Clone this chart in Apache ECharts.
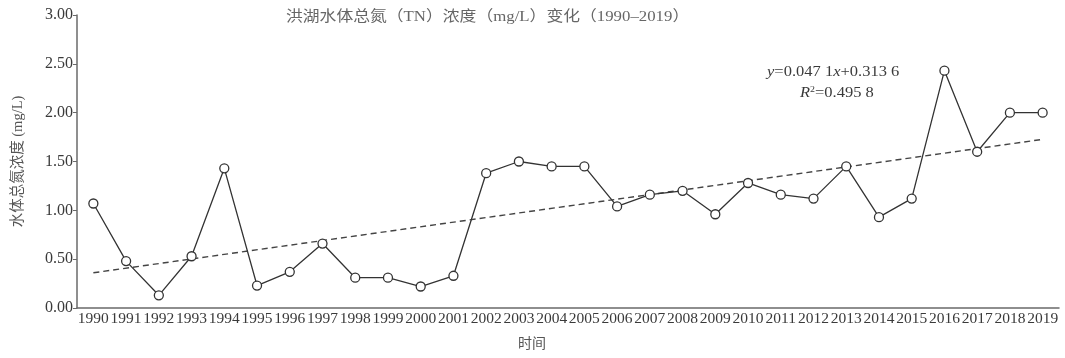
<!DOCTYPE html>
<html>
<head>
<meta charset="utf-8">
<script src="https://cdn.jsdelivr.net/npm/echarts@6/dist/echarts.min.js"></script>
<style>
  html, body { margin: 0; padding: 0; background: #fff; }
  #chart { width: 1065px; height: 358px; }
</style>
</head>
<body>
<div id="chart"></div>
<script>
// Years on the horizontal axis
const years = ['1990','1991','1992','1993','1994','1995','1996','1997','1998','1999',
               '2000','2001','2002','2003','2004','2005','2006','2007','2008','2009',
               '2010','2011','2012','2013','2014','2015','2016','2017','2018','2019'];

// Total nitrogen concentration of Honghu Lake water (mg/L)
const tnValues = [1.07, 0.48, 0.13, 0.53, 1.43, 0.23, 0.37, 0.66, 0.31, 0.31,
                  0.22, 0.33, 1.38, 1.50, 1.45, 1.45, 1.04, 1.16, 1.20, 0.96,
                  1.28, 1.16, 1.12, 1.45, 0.93, 1.12, 2.43, 1.60, 2.00, 2.00];

// Linear trend y = a*x + b, x = 1 for the first year
const trendSlope = 0.0471;
const trendIntercept = 0.3136;
const rSquared = 0.4958;

const yTicks = [0, 0.5, 1, 1.5, 2, 2.5, 3];

// Four decimals written with a thin group break after the third: 0.047 1
function groupDecimals(v) {
  const s = v.toFixed(4);
  return s.slice(0, 5) + ' ' + s.slice(5);
}

const trendLine = [
  [years[0], trendSlope * 1 + trendIntercept],
  [years[years.length - 1], trendSlope * years.length + trendIntercept]
];

const serif = '"Liberation Serif", "DejaVu Serif", "Noto Sans CJK SC", serif';
const textColor = '#3a3a3a';
const axisColor = '#6a6a6a';

const chart = echarts.init(document.getElementById('chart'), null, { renderer: 'canvas' });

chart.setOption({
  backgroundColor: '#fff',
  animation: false,
  grid: { left: 77, right: 6, top: 15, bottom: 50, containLabel: false },
  xAxis: {
    type: 'category',
    data: years,
    boundaryGap: true,
    name: '时间',
    nameLocation: 'middle',
    nameGap: 29,
    nameTextStyle: { fontFamily: serif, fontSize: 14, color: '#555', padding: [0, 72, 0, 0] },
    axisLine: { lineStyle: { color: axisColor, width: 1.5 } },
    axisTick: { alignWithLabel: true, inside: true, length: 5, lineStyle: { color: axisColor } },
    axisLabel: { fontFamily: serif, fontSize: 15.5, color: textColor, margin: 3, interval: 0 },
    splitLine: { show: false }
  },
  yAxis: {
    type: 'value',
    min: yTicks[0],
    max: yTicks[yTicks.length - 1],
    interval: 0.5,
    name: '水体总氮浓度 (mg/L)',
    nameLocation: 'middle',
    nameGap: 52,
    nameRotate: 90,
    nameTextStyle: { fontFamily: serif, fontSize: 14.5, color: '#555' },
    axisLine: { show: true, lineStyle: { color: axisColor, width: 1.5 } },
    axisTick: { show: true, length: 4, lineStyle: { color: axisColor } },
    axisLabel: {
      fontFamily: serif, fontSize: 16, color: textColor, margin: 4,
      formatter: v => v.toFixed(2)
    },
    splitLine: { show: false }
  },
  series: [
    {
      name: 'TN',
      type: 'line',
      data: tnValues,
      symbol: 'circle',
      symbolSize: 9,
      lineStyle: { color: '#333', width: 1.3 },
      itemStyle: { color: '#fff', borderColor: '#333', borderWidth: 1.3 },
      z: 3
    },
    {
      name: 'trend',
      type: 'line',
      data: trendLine,
      symbol: 'none',
      lineStyle: { color: '#444', width: 1.4, type: [6, 4] },
      z: 2
    }
  ],
  graphic: [
    {
      type: 'text',
      x: 286,
      y: 10,
      scaleX: 1.12,
      style: {
        text: '洪湖水体总氮（TN）浓度（mg/L）变化（1990–2019）',
        font: '15px ' + serif,
        fill: '#666'
      }
    },
    {
      type: 'text',
      x: 767,
      y: 65,
      scaleX: 1.1,
      style: {
        text: '{i|y}=' + groupDecimals(trendSlope) + '{i|x}+' + groupDecimals(trendIntercept),
        font: '15px ' + serif,
        fill: textColor,
        rich: {
          i: { fontStyle: 'italic', fontFamily: serif, fontSize: 15, fill: textColor }
        }
      }
    },
    {
      type: 'text',
      x: 800,
      y: 85,
      scaleX: 1.1,
      style: {
        text: '{i|R}{s|2}=' + groupDecimals(rSquared),
        font: '15px ' + serif,
        fill: textColor,
        rich: {
          i: { fontStyle: 'italic', fontFamily: serif, fontSize: 15, fill: textColor },
          s: { fontFamily: serif, fontSize: 9, fill: textColor, verticalAlign: 'top', padding: [0, 0, 7, 0] }
        }
      }
    }
  ]
});
</script>
</body>
</html>
